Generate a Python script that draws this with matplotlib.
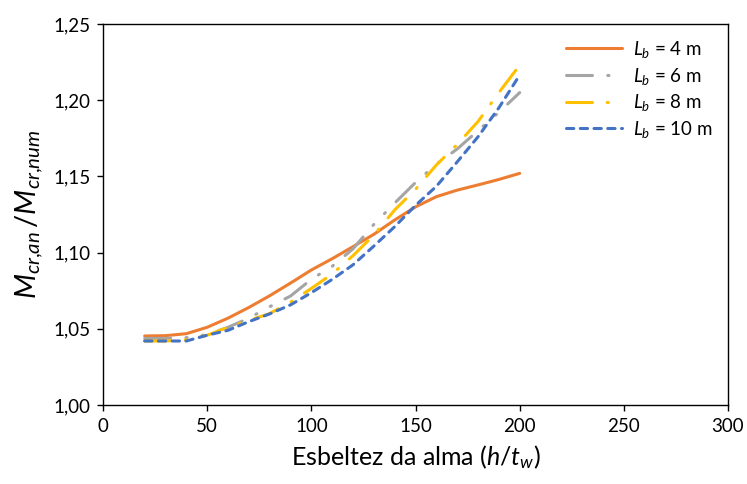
import matplotlib
matplotlib.use("Agg")
import matplotlib.pyplot as plt

plt.rcParams['font.family'] = ['Lato', 'DejaVu Sans']
plt.rcParams['mathtext.fontset'] = 'custom'
plt.rcParams['mathtext.rm'] = 'Lato'
plt.rcParams['mathtext.it'] = 'Lato:italic'

x = [20, 30, 40, 50, 60, 70, 80, 90, 100, 110, 120, 130, 140, 150, 160, 170, 180, 190, 200]
lb4 = [1.0453, 1.0455, 1.0468, 1.0510, 1.0570, 1.0640, 1.0717, 1.0800, 1.0886, 1.0960,
       1.1039, 1.1120, 1.1214, 1.1300, 1.1367, 1.1410, 1.1444, 1.1480, 1.1520]
lb6 = [1.0437, 1.0437, 1.0442, 1.0462, 1.0510, 1.0570, 1.0645, 1.0715, 1.0825, 1.0910,
       1.1025, 1.1185, 1.1325, 1.1460, 1.1580, 1.1680, 1.1800, 1.1920, 1.2050]
lb8 = [1.0420, 1.0420, 1.0428, 1.0458, 1.0510, 1.0555, 1.0600, 1.0675, 1.0765, 1.0860,
       1.0980, 1.1115, 1.1280, 1.1415, 1.1575, 1.1710, 1.1860, 1.2050, 1.2230]
lb10 = [1.0420, 1.0420, 1.0420, 1.0458, 1.0490, 1.0547, 1.0598, 1.0657, 1.0737, 1.0824,
        1.0920, 1.1043, 1.1170, 1.1310, 1.1435, 1.1595, 1.1760, 1.1950, 1.2165]
labels = [r'$L_b$ = 4 m', r'$L_b$ = 6 m', r'$L_b$ = 8 m', r'$L_b$ = 10 m']
colors = ['#ED7D31', '#A5A5A5', '#FFC000', '#4472C4']
xticks = [0, 50, 100, 150, 200, 250, 300]
yticks = [1.00, 1.05, 1.10, 1.15, 1.20, 1.25]

fig = plt.figure(figsize=(7.47, 4.84), dpi=100)
ax = fig.add_axes([0.1379, 0.1632, 0.9746 - 0.1379, 0.9504 - 0.1632])

lw = 2.2
ax.plot(x, lb4, color=colors[0], lw=lw, solid_capstyle='round', label=labels[0])
ax.plot(x, lb6, color=colors[1], lw=lw, dashes=[8.5, 5, 0.4, 5, 0.4, 5],
        dash_capstyle='round', label=labels[1])
ax.plot(x, lb8, color=colors[2], lw=lw, dashes=[8.5, 4.8, 0.4, 4.8],
        dash_capstyle='round', label=labels[2])
ax.plot(x, lb10, color=colors[3], lw=lw, dashes=[2.4, 2.1],
        dash_capstyle='round', label=labels[3])

ax.set_xlim(0, 300)
ax.set_ylim(1.00, 1.25)
ax.set_xticks(xticks)
ax.set_yticks(yticks)
ax.set_xticklabels([str(v) for v in xticks])
ax.set_yticklabels([f'{v:.2f}'.replace('.', ',') for v in yticks])
ax.tick_params(direction='out', length=4, width=1, labelsize=13.5, colors='black', pad=5)
for s in ax.spines.values():
    s.set_linewidth(1.0)
    s.set_color('black')

ax.set_xlabel(r'Esbeltez da alma ($h/t_w$)', fontsize=18, labelpad=6)
ax.set_ylabel(r'$M_{cr{,}an}\,/M_{cr{,}num}$', fontsize=21, labelpad=6)

ax.legend(loc='upper right', frameon=False, fontsize=13.5, handlelength=3.0,
          handletextpad=0.6, labelspacing=0.3, borderaxespad=0.4)

fig.savefig('out.png', dpi=100)
